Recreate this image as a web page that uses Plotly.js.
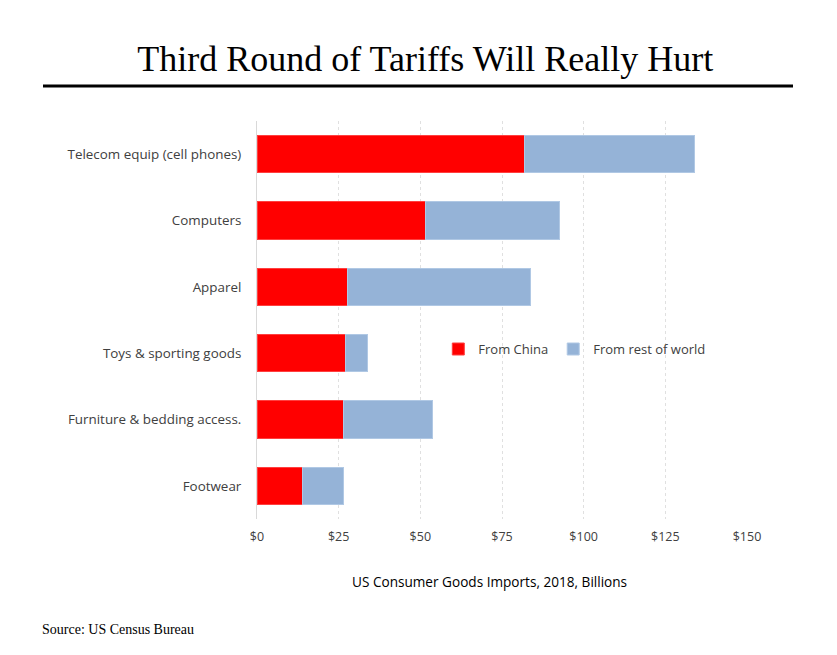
<!DOCTYPE html>
<html>
<head>
<meta charset="utf-8">
<script src="https://cdn.plot.ly/plotly-3.0.1.min.js"></script>
<style>html,body{margin:0;padding:0;background:#fff;}#chart{width:837px;height:655px;}</style>
</head>
<body>
<div id="chart"></div>
<script>
const categories = ["Telecom equip (cell phones)", "Computers", "Apparel", "Toys & sporting goods", "Furniture & bedding access.", "Footwear"];
const fromChina = [82, 51.5, 27.6, 27.2, 26.5, 13.9];
const fromRest = [52, 41, 56.1, 6.7, 27.2, 12.5];
const tickValues = [0, 25, 50, 75, 100, 125, 150];
const tickLabels = ["$0", "$25", "$50", "$75", "$100", "$125", "$150"];

const uiFont = "'Open Sans', Lato, sans-serif";
const serif = "'Liberation Serif', 'Times New Roman', serif";

const traces = [
  {type: 'bar', orientation: 'h', name: 'From China', y: categories, x: fromChina,
   marker: {color: '#FF0000', line: {color: '#FF4040', width: 1}}, hoverinfo: 'x+name'},
  {type: 'bar', orientation: 'h', name: 'From rest of world', y: categories, x: fromRest,
   marker: {color: '#95B3D7', line: {color: '#B0C8E4', width: 1}}, hoverinfo: 'x+name'}
];

const layout = {
  width: 837, height: 655,
  margin: {l: 257, r: 90, t: 121, b: 136},
  paper_bgcolor: '#fff', plot_bgcolor: '#fff',
  barmode: 'stack', bargap: 0.44,
  title: {text: 'Third Round of Tariffs Will Really Hurt', font: {family: serif, size: 36, color: '#000'},
          x: 0.508, xanchor: 'center', y: 1 - 58/655, yanchor: 'middle', yref: 'container'},
  xaxis: {range: [0, 150], tickvals: tickValues, ticktext: tickLabels,
          showgrid: true, gridcolor: '#e0e0e0', griddash: 'dot', gridwidth: 1,
          zeroline: false, showline: false, ticks: 'outside', ticklen: 6, tickcolor: 'rgba(0,0,0,0)',
          tickfont: {family: uiFont, size: 12.5, color: '#404040'}, fixedrange: true},
  yaxis: {autorange: 'reversed', type: 'category', showgrid: false, zeroline: false,
          showline: true, linecolor: '#d9d9d9', linewidth: 1,
          ticks: 'outside', ticklen: 12, tickcolor: 'rgba(0,0,0,0)',
          tickfont: {family: uiFont, size: 13.4, color: '#404040'}, fixedrange: true},
  showlegend: true,
  legend: {orientation: 'h', x: 0.37, xanchor: 'left', y: 0.427, yanchor: 'middle',
           font: {family: uiFont, size: 13, color: '#404040'}, bgcolor: 'rgba(0,0,0,0)',
           traceorder: 'normal', itemwidth: 30},
  shapes: [
    {type: 'line', xref: 'paper', yref: 'paper', x0: (43-257)/490, x1: (793-257)/490,
     y0: (519-86)/398, y1: (519-86)/398, line: {color: '#000', width: 3}}
  ],
  annotations: [
    {text: 'US Consumer Goods Imports, 2018, Billions', xref: 'paper', yref: 'paper',
     x: (489.5-257)/490, y: (519-581)/398, xanchor: 'center', yanchor: 'middle', showarrow: false,
     font: {family: uiFont, size: 13.6, color: '#000'}},
    {text: 'Source: US Census Bureau', xref: 'paper', yref: 'paper',
     x: (40-257)/490, y: (519-629)/398, xanchor: 'left', yanchor: 'middle', showarrow: false,
     font: {family: serif, size: 14, color: '#000'}}
  ]
};

Plotly.newPlot('chart', traces, layout, {displayModeBar: false, staticPlot: true});
</script>
</body>
</html>
